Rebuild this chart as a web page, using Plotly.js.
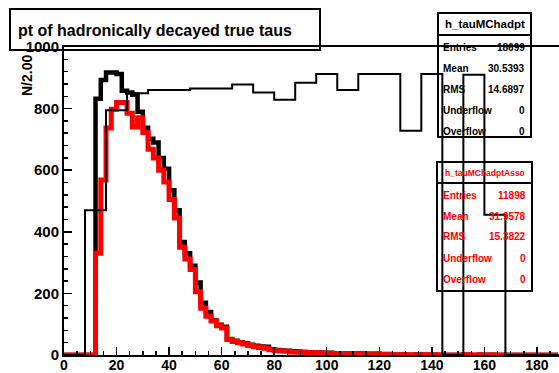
<!DOCTYPE html>
<html>
<head>
<meta charset="utf-8">
<script src="https://cdn.plot.ly/plotly-3.0.1.min.js"></script>
<style>html,body{margin:0;padding:0;background:#fff;}#chart{width:559px;height:373px;}</style>
</head>
<body>
<div id="chart"></div>
<script>
// ---- data ----
const titleText = "pt of hadronically decayed true taus";
const yAxisTitle = "N/2.00";
const binWidth = 2;            // h_tauMChadpt and h_tauMChadptAsso
const ratioBinWidth = 8;       // thin black line
const xTickVals = [0, 20, 40, 60, 80, 100, 120, 140, 160, 180];
const yTickVals = [0, 200, 400, 600, 800, 1000];

// h_tauMChadpt (thick black), bins of 2 starting at 0
const blackCounts = [
  0, 0, 0, 0, 0, 0, 832, 893, 917, 917,
  912, 858, 852, 845, 790, 738, 702, 690, 640, 605,
  535, 470, 367, 330, 290, 235, 170, 140, 112, 98,
  92, 52, 46, 41, 38, 33, 30, 28, 27, 19,
  16, 15, 14, 12, 11, 10, 9, 8, 8, 7,
  7, 6, 6, 5, 5, 4, 5, 4, 3, 4,
  3, 3, 2, 2, 2, 1, 1, 2, 1, 1,
  1, 0, 0, 0, 0, 0, 1, 0, 0, 1,
  0, 1, 0, 0, 0, 0, 0, 0, 0, 0,
  0, 0, 0, 0
];
// h_tauMChadptAsso (thick red), bins of 2 starting at 0
const redCounts = [
  0, 0, 0, 0, 0, 0, 330, 568, 737, 798,
  820, 820, 785, 740, 770, 722, 668, 640, 600, 562,
  505, 445, 350, 312, 278, 205, 152, 126, 110, 95,
  88, 50, 44, 40, 36, 31, 27, 24, 22, 17,
  14, 13, 12, 10, 9, 9, 8, 7, 7, 6,
  6, 5, 5, 4, 4, 3, 4, 3, 3, 3,
  2, 2, 2, 1, 1, 1, 1, 1, 1, 1,
  1, 0, 0, 0, 0, 0, 1, 0, 0, 1,
  0, 0, 0, 0, 0, 0, 0, 0, 0, 0,
  0, 0, 0, 0
];
// thin black line, bins of 8 starting at 0
const ratioValues = [
  0, 470, 795, 850, 860, 860, 865, 865, 878, 852,
  829, 884, 912, 860, 912, 912, 728, 912, 0, 910,
  455, 0, 0, 0
];

const stats1Name = "h_tauMChadpt";
const stats1Labels = ["Entries", "Mean", "RMS", "Underflow", "Overflow"];
const stats1Values = ["18699", "30.5393", "14.6897", "0", "0"];
const stats2Name = "h_tauMChadptAsso";
const stats2Labels = ["Entries", "Mean", "RMS", "Underflow", "Overflow"];
const stats2Values = ["11898", "31.9578", "15.3822", "0", "0"];

// ---- helpers ----
function stepXY(values, width) {
  const x = [], y = [];
  for (let i = 0; i < values.length; i++) { x.push(i * width); y.push(values[i]); }
  x.push(values.length * width); y.push(values[values.length - 1]);
  return {x, y};
}
const W = 559, H = 373, L = 64, R = 0, T = 47, B = 18;
const pw = W - L - R, ph = H - T - B;
const px = v => (v - L) / pw;
const py = v => (H - B - v) / ph;
const FONT = "Liberation Sans, Arial, Helvetica, sans-serif";

const b = stepXY(blackCounts, binWidth);
const r = stepXY(redCounts, binWidth);
const q = stepXY(ratioValues, ratioBinWidth);

const traces = [
  {x: b.x, y: b.y, type: "scatter", mode: "lines", line: {shape: "hv", color: "#000000", width: 4.5}, hoverinfo: "skip"},
  {x: r.x, y: r.y, type: "scatter", mode: "lines", line: {shape: "hv", color: "#ff0000", width: 5}, hoverinfo: "skip"},
  {x: q.x, y: q.y, type: "scatter", mode: "lines", line: {shape: "hv", color: "#000000", width: 2}, hoverinfo: "skip"}
];

const shapes = [];
function rect(x0, y0, x1, y1) {
  shapes.push({type: "rect", xref: "paper", yref: "paper", x0: px(x0), x1: px(x1), y0: py(y0), y1: py(y1),
    line: {color: "#000", width: 2}, fillcolor: "rgba(0,0,0,0)", layer: "below"});
}
function hline(x0, x1, y) {
  shapes.push({type: "line", xref: "paper", yref: "paper", x0: px(x0), x1: px(x1), y0: py(y), y1: py(y),
    line: {color: "#000", width: 2}, layer: "below"});
}
rect(10, 9, 320, 50);
rect(438, 13, 531, 137); hline(438, 531, 35);
rect(437, 162, 532, 291); hline(437, 532, 183);

const annotations = [];
function ann(text, x, y, xanchor, size, color, extra) {
  annotations.push(Object.assign({text: "<b>" + text + "</b>", x: px(x), y: py(y), xref: "paper", yref: "paper",
    xanchor: xanchor, yanchor: "middle", showarrow: false,
    font: {family: FONT, size: size, color: color}}, extra || {}));
}
ann(titleText, 16, 31, "left", 16, "#000");
ann(yAxisTitle, 27, 76, "center", 14, "#000", {textangle: -90});
ann(stats1Name, 484.5, 24, "center", 11.5, "#000");
for (let i = 0; i < stats1Labels.length; i++) {
  ann(stats1Labels[i], 441, 47 + i * 21, "left", 10, "#000");
  ann(stats1Values[i], 527, 47 + i * 21, "right", 10, "#000");
}
ann(stats2Name, 484.5, 173, "center", 8.5, "#ff0000");
for (let i = 0; i < stats2Labels.length; i++) {
  ann(stats2Labels[i], 441, 195 + i * 21, "left", 10, "#ff0000");
  ann(stats2Values[i], 528, 195 + i * 21, "right", 10, "#ff0000");
}

const layout = {
  width: W, height: H,
  margin: {l: L, r: R, t: T, b: B, pad: 0},
  paper_bgcolor: "#ffffff", plot_bgcolor: "rgba(0,0,0,0)",
  showlegend: false,
  font: {family: FONT, color: "#000"},
  xaxis: {
    range: [0, 188.4], tickvals: xTickVals, ticktext: xTickVals.map(String),
    ticks: "inside", ticklen: 8, tickwidth: 1.5, tickcolor: "#000",
    minor: {dtick: 5, ticks: "inside", ticklen: 4, tickwidth: 1.5, tickcolor: "#000"},
    showline: true, linewidth: 2, linecolor: "#000", mirror: true,
    showgrid: false, zeroline: false, ticklabelstandoff: -4,
    tickfont: {family: FONT, size: 14, color: "#000", weight: "bold"}
  },
  yaxis: {
    range: [0, 1000], tickvals: yTickVals, ticktext: yTickVals.map(String),
    ticks: "inside", ticklen: 8, tickwidth: 1.5, tickcolor: "#000",
    minor: {dtick: 40, ticks: "inside", ticklen: 4, tickwidth: 1.5, tickcolor: "#000"},
    showline: true, linewidth: 2, linecolor: "#000",
    showgrid: false, zeroline: false,
    tickfont: {family: FONT, size: 15, color: "#000", weight: "bold"}
  },
  shapes: shapes,
  annotations: annotations
};

Plotly.newPlot("chart", traces, layout, {staticPlot: true, displayModeBar: false});
</script>
</body>
</html>
